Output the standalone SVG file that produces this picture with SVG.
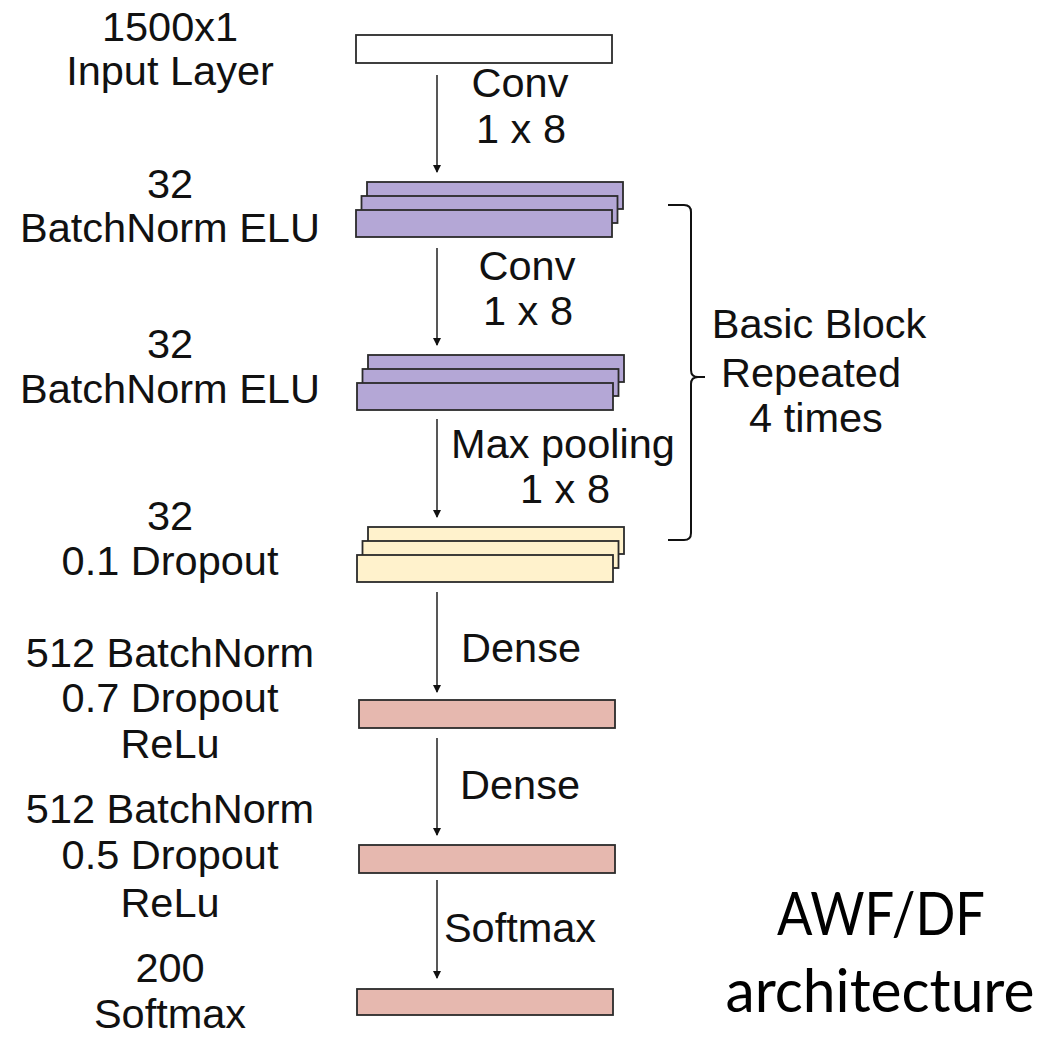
<svg xmlns="http://www.w3.org/2000/svg" width="1043" height="1043" viewBox="0 0 1043 1043">
  <defs>
    <style>
      .lbl { font-family: "Liberation Sans", Arial, sans-serif; font-size: 41.5px; fill: #111; text-anchor: middle; }
      .op { font-family: "Liberation Sans", Arial, sans-serif; font-size: 41.5px; fill: #111; text-anchor: middle; }
      .title { font-family: Lato, "Open Sans", sans-serif; font-size: 60px; fill: #000; text-anchor: middle; }
      .box { stroke: #2b2b2b; stroke-width: 1.8; }
      .in { fill: #ffffff; }
      .conv { fill: #b4a7d6; }
      .pool { fill: #fff2cc; }
      .dense { fill: #e6b8af; }
      .flow { stroke: #111; stroke-width: 1.4; fill: none; marker-end: url(#tip); }
      .brace { stroke: #111; stroke-width: 2; fill: none; }
    </style>
    <marker id="tip" markerUnits="userSpaceOnUse" markerWidth="8" markerHeight="12" refX="7" refY="4" orient="auto">
      <path d="M0,0 L8,4 L0,8 Z" fill="#111"/>
    </marker>
    <!-- three stacked feature-map slabs -->
    <g id="slabs">
      <rect x="11" y="0" width="256" height="27"/>
      <rect x="5.5" y="14" width="256" height="27"/>
      <rect x="0" y="28" width="256" height="27"/>
    </g>
  </defs>

  <rect width="1043" height="1043" fill="#ffffff"/>

  <!-- layers -->
  <g id="input-layer">
    <rect class="box in" x="356" y="35" width="256" height="28"/>
    <text class="lbl" x="170" y="41">1500x1</text>
    <text class="lbl" x="170" y="85">Input Layer</text>
  </g>

  <g id="conv-block-1">
    <use href="#slabs" class="box conv" x="356" y="182"/>
    <text class="lbl" x="170" y="198">32</text>
    <text class="lbl" x="170" y="242">BatchNorm ELU</text>
  </g>

  <g id="conv-block-2">
    <use href="#slabs" class="box conv" x="357" y="355"/>
    <text class="lbl" x="170" y="358">32</text>
    <text class="lbl" x="170" y="403">BatchNorm ELU</text>
  </g>

  <g id="pool-block">
    <use href="#slabs" class="box pool" x="357" y="527"/>
    <text class="lbl" x="170" y="530">32</text>
    <text class="lbl" x="170" y="575">0.1 Dropout</text>
  </g>

  <g id="dense-1">
    <rect class="box dense" x="359" y="700" width="256" height="28"/>
    <text class="lbl" x="170" y="667">512 BatchNorm</text>
    <text class="lbl" x="170" y="712">0.7 Dropout</text>
    <text class="lbl" x="170" y="758">ReLu</text>
  </g>

  <g id="dense-2">
    <rect class="box dense" x="359" y="845" width="256" height="28"/>
    <text class="lbl" x="170" y="823">512 BatchNorm</text>
    <text class="lbl" x="170" y="869">0.5 Dropout</text>
    <text class="lbl" x="170" y="917">ReLu</text>
  </g>

  <g id="output-layer">
    <rect class="box dense" x="357" y="989" width="256" height="26"/>
    <text class="lbl" x="170" y="982">200</text>
    <text class="lbl" x="170" y="1028">Softmax</text>
  </g>

  <!-- connectors with operation labels -->
  <g id="connectors">
    <line class="flow" x1="437" y1="75" x2="437" y2="172"/>
    <line class="flow" x1="437" y1="248" x2="437" y2="345"/>
    <line class="flow" x1="437" y1="419" x2="437" y2="517"/>
    <line class="flow" x1="437" y1="592" x2="437" y2="692"/>
    <line class="flow" x1="437" y1="738" x2="437" y2="835"/>
    <line class="flow" x1="437" y1="880" x2="437" y2="978"/>

    <text class="op" x="520" y="97">Conv</text>
    <text class="op" x="521" y="143">1 x 8</text>
    <text class="op" x="527" y="280">Conv</text>
    <text class="op" x="528" y="325">1 x 8</text>
    <text class="op" x="563" y="458">Max pooling</text>
    <text class="op" x="565" y="503">1 x 8</text>
    <text class="op" x="521" y="662">Dense</text>
    <text class="op" x="520" y="799">Dense</text>
    <text class="op" x="520" y="942">Softmax</text>
  </g>

  <!-- repeated block bracket -->
  <g id="repeat-bracket">
    <path class="brace" d="M668,205 L684,205 Q691,205 691,212 L691,370 Q691,377 698,377 L705,377 M698,377 Q691,377 691,384 L691,533 Q691,540 684,540 L668,540"/>
    <text class="op" x="819" y="338">Basic Block</text>
    <text class="op" x="811" y="387">Repeated</text>
    <text class="op" x="816" y="432">4 times</text>
  </g>

  <g id="caption">
    <text class="title" x="881" y="935" textLength="208" lengthAdjust="spacingAndGlyphs">AWF/DF</text>
    <text class="title" x="880" y="1012" textLength="309" lengthAdjust="spacingAndGlyphs">architecture</text>
  </g>
</svg>
